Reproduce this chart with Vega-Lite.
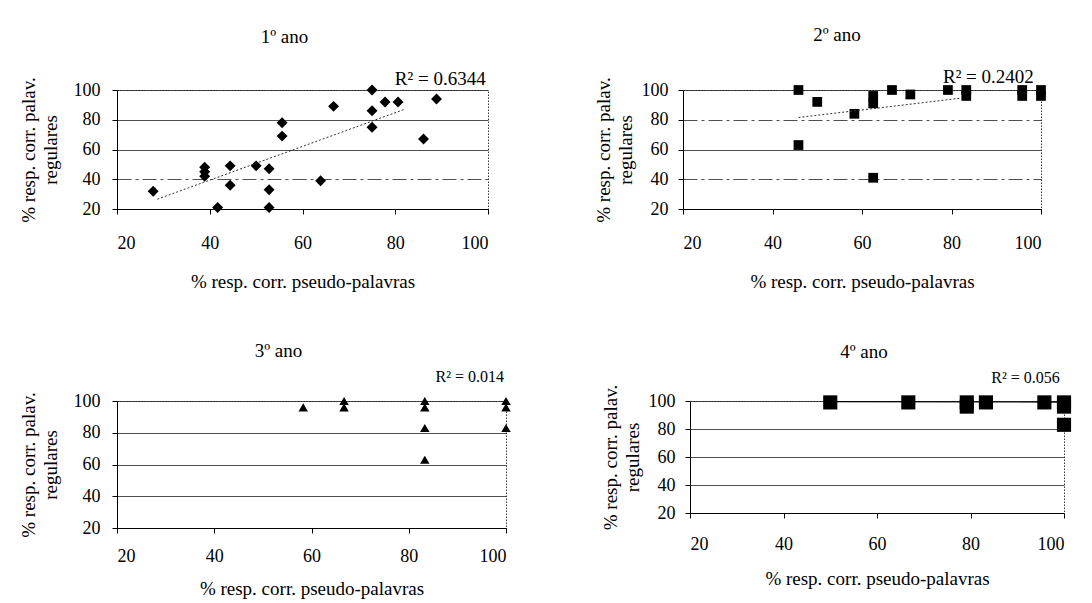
{
  "$schema": "https://vega.github.io/schema/vega-lite/v6.json",
  "background": "white",
  "padding": {"left": 18, "top": 25, "right": 5, "bottom": 5},
  "bounds": "flush",
  "spacing": 311,
  "config": {
    "font": "Liberation Serif",
    "view": {"stroke": "#333333", "strokeDash": [1.5, 1.5], "strokeWidth": 1},
    "axis": {
      "labelFont": "Liberation Serif", "labelFontSize": 18, "labelColor": "black",
      "titleFont": "Liberation Serif", "titleFontSize": 19, "titleFontWeight": "normal", "titleColor": "black",
      "domainColor": "black", "tickColor": "black", "tickSize": 5,
      "gridColor": "#222222", "gridWidth": 0.8
    },
    "title": {"font": "Liberation Serif", "fontSize": 19, "fontWeight": "normal", "color": "black", "anchor": "middle"}
  },
  "vconcat": [
    {
      "bounds": "flush",
      "spacing": 195,
      "hconcat": [
        {
          "width": 371, "height": 119,
          "title": {"text": "1º ano", "dx": -18, "offset": 23},
          "encoding": {
            "x": {"field": "x", "type": "quantitative", "scale": {"domain": [20, 100], "nice": false},
                  "axis": {"values": [20, 40, 60, 80, 100], "grid": false, "labelPadding": 20, "title": "% resp. corr. pseudo-palavras", "titlePadding": 20}},
            "y": {"field": "y", "type": "quantitative", "scale": {"domain": [20, 100], "nice": false, "zero": false},
                  "axis": {"values": [20, 40, 60, 80, 100], "grid": true, "labelPadding": 12,
                           "gridDash": {"condition": {"test": "datum.value === 40", "value": [14, 4, 3, 4]}, "value": []},
                           "title": ["% resp. corr. palav.", "regulares"], "titleLineHeight": 22, "titlePadding": 13}}
          },
          "layer": [
            {
              "data": {"values": [
                {"x": 27.8, "y": 32}, {"x": 38.9, "y": 48}, {"x": 38.9, "y": 45}, {"x": 38.9, "y": 42},
                {"x": 41.7, "y": 21}, {"x": 44.4, "y": 49}, {"x": 44.4, "y": 36}, {"x": 50, "y": 49},
                {"x": 52.8, "y": 47}, {"x": 52.8, "y": 33}, {"x": 52.8, "y": 21}, {"x": 55.6, "y": 78},
                {"x": 55.6, "y": 69}, {"x": 63.9, "y": 39}, {"x": 66.7, "y": 89}, {"x": 75, "y": 100},
                {"x": 75, "y": 86}, {"x": 75, "y": 75}, {"x": 77.8, "y": 92}, {"x": 80.6, "y": 92},
                {"x": 86.1, "y": 67}, {"x": 88.9, "y": 94}
              ]},
              "mark": {"type": "point", "shape": "diamond", "filled": true, "size": 120, "color": "black", "opacity": 1}
            },
            {
              "data": {"values": [{"x": 28.7, "y": 26.6}, {"x": 82, "y": 87}]},
              "mark": {"type": "line", "color": "#333333", "strokeWidth": 1, "strokeDash": [2, 2]}
            },
            {
              "data": {"values": [{"x": 99.5, "y": 103.4, "label": "R² = 0.6344"}]},
              "mark": {"type": "text", "align": "right", "baseline": "alphabetic", "fontSize": 19, "color": "black"},
              "encoding": {"text": {"field": "label"}}
            }
          ]
        },
        {
          "width": 358, "height": 119,
          "title": {"text": "2º ano", "dx": -25, "offset": 23},
          "encoding": {
            "x": {"field": "x", "type": "quantitative", "scale": {"domain": [20, 100], "nice": false},
                  "axis": {"values": [20, 40, 60, 80, 100], "grid": false, "labelPadding": 20, "title": "% resp. corr. pseudo-palavras", "titlePadding": 20}},
            "y": {"field": "y", "type": "quantitative", "scale": {"domain": [20, 100], "nice": false, "zero": false},
                  "axis": {"values": [20, 40, 60, 80, 100], "grid": true, "labelPadding": 10,
                           "gridDash": {"condition": {"test": "datum.value === 40 || datum.value === 80", "value": [14, 4, 3, 4]}, "value": []},
                           "title": ["% resp. corr. palav.", "regulares"], "titleLineHeight": 22, "titlePadding": 6}}
          },
          "layer": [
            {
              "data": {"values": [
                {"x": 45.8, "y": 100}, {"x": 45.8, "y": 63}, {"x": 50, "y": 92}, {"x": 58.3, "y": 84},
                {"x": 62.5, "y": 96}, {"x": 62.5, "y": 91}, {"x": 62.5, "y": 41}, {"x": 66.7, "y": 100},
                {"x": 70.8, "y": 97}, {"x": 79.2, "y": 100}, {"x": 83.3, "y": 100}, {"x": 83.3, "y": 96},
                {"x": 95.8, "y": 100}, {"x": 95.8, "y": 96}, {"x": 100, "y": 100}, {"x": 100, "y": 96}
              ]},
              "mark": {"type": "point", "shape": "square", "filled": true, "size": 95, "color": "black", "opacity": 1}
            },
            {
              "data": {"values": [{"x": 45.8, "y": 81.5}, {"x": 82, "y": 94.5}]},
              "mark": {"type": "line", "color": "#333333", "strokeWidth": 1, "strokeDash": [2, 2]}
            },
            {
              "data": {"values": [{"x": 98.4, "y": 104.7, "label": "R² = 0.2402"}]},
              "mark": {"type": "text", "align": "right", "baseline": "alphabetic", "fontSize": 19, "color": "black"},
              "encoding": {"text": {"field": "label"}}
            }
          ]
        }
      ]
    },
    {
      "bounds": "flush",
      "spacing": 184,
      "hconcat": [
        {
          "width": 389, "height": 127,
          "title": {"text": "3º ano", "dx": -33, "offset": 8},
          "encoding": {
            "x": {"field": "x", "type": "quantitative", "scale": {"domain": [20, 100], "nice": false},
                  "axis": {"values": [20, 40, 60, 80, 100], "grid": false, "labelPadding": 14, "title": "% resp. corr. pseudo-palavras", "titlePadding": 14}},
            "y": {"field": "y", "type": "quantitative", "scale": {"domain": [20, 100], "nice": false, "zero": false},
                  "axis": {"values": [20, 40, 60, 80, 100], "grid": true, "labelPadding": 12,
                           "title": ["% resp. corr. palav.", "regulares"], "titleLineHeight": 22, "titlePadding": 13}}
          },
          "layer": [
            {
              "data": {"values": [
                {"x": 58.3, "y": 96}, {"x": 66.7, "y": 100}, {"x": 66.7, "y": 96}, {"x": 83.3, "y": 100},
                {"x": 83.3, "y": 96}, {"x": 83.3, "y": 83}, {"x": 83.3, "y": 63}, {"x": 100, "y": 100},
                {"x": 100, "y": 96}, {"x": 100, "y": 83}
              ]},
              "mark": {"type": "point", "shape": "triangle-up", "filled": true, "size": 90, "color": "black", "opacity": 1}
            },
            {
              "data": {"values": [{"x": 99.6, "y": 112, "label": "R² = 0.014"}]},
              "mark": {"type": "text", "align": "right", "baseline": "alphabetic", "fontSize": 16, "color": "black"},
              "encoding": {"text": {"field": "label"}}
            }
          ]
        },
        {
          "width": 374, "height": 112,
          "title": {"text": "4º ano", "dx": -13, "offset": 8},
          "encoding": {
            "x": {"field": "x", "type": "quantitative", "scale": {"domain": [20, 100], "nice": false},
                  "axis": {"values": [20, 40, 60, 80, 100], "grid": false, "labelPadding": 17, "title": "% resp. corr. pseudo-palavras", "titlePadding": 16}},
            "y": {"field": "y", "type": "quantitative", "scale": {"domain": [20, 100], "nice": false, "zero": false},
                  "axis": {"values": [20, 40, 60, 80, 100], "grid": true, "labelPadding": 10,
                           "title": ["% resp. corr. palav.", "regulares"], "titleLineHeight": 22, "titlePadding": 6}}
          },
          "layer": [
            {
              "data": {"values": [
                {"x": 50, "y": 99}, {"x": 66.7, "y": 99}, {"x": 79.2, "y": 99}, {"x": 79.2, "y": 96},
                {"x": 83.3, "y": 99}, {"x": 95.8, "y": 99}, {"x": 100, "y": 99}, {"x": 100, "y": 96},
                {"x": 100, "y": 83}
              ]},
              "mark": {"type": "point", "shape": "square", "filled": true, "size": 200, "color": "black", "opacity": 1}
            },
            {
              "data": {"values": [{"x": 50, "y": 99.6}, {"x": 100, "y": 99.2}]},
              "mark": {"type": "line", "color": "black", "strokeWidth": 1.2}
            },
            {
              "data": {"values": [{"x": 99.1, "y": 112.9, "label": "R² = 0.056"}]},
              "mark": {"type": "text", "align": "right", "baseline": "alphabetic", "fontSize": 16, "color": "black"},
              "encoding": {"text": {"field": "label"}}
            }
          ]
        }
      ]
    }
  ]
}
